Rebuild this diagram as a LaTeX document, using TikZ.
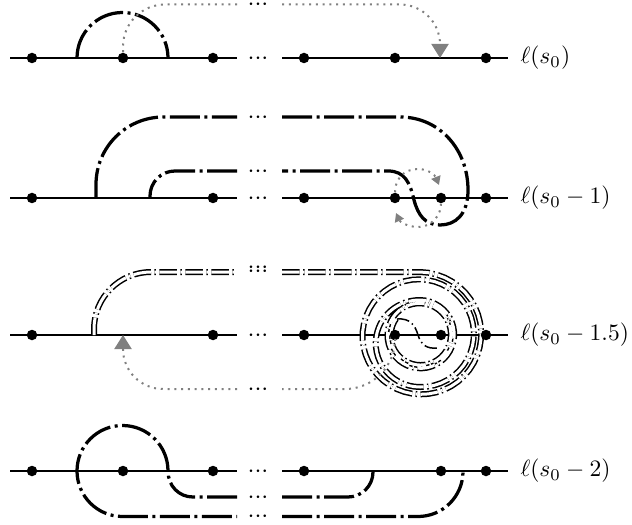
\documentclass[tikz,border=0pt]{standalone}
\usetikzlibrary{arrows.meta}
\newcommand{\mydots}{${\cdot}{\cdot}{\cdot}$}
\begin{document}
\begin{tikzpicture}[x=0.4pt,y=-0.4pt,
  baseln/.style={line width=0.7pt},
  pt/.style={circle,fill=black,inner sep=0pt,minimum size=4.2pt},
  dd/.style={line width=1.3pt,dash pattern=on 12pt off 1.8pt on 1.2pt off 1.8pt},
  band/.style={line width=0.6pt,double,double distance=1.2pt,dash pattern=on 7pt off 1.4pt on 0.6pt off 1.4pt},
  sline/.style={line width=0.6pt,dash pattern=on 5pt off 1.4pt on 0.6pt off 1.4pt},
  gdot/.style={draw=gray,line width=0.8pt,dash pattern=on 0.8pt off 1.9pt},
  bigtip/.style={-{Triangle[width=6.8pt,length=5.6pt]}},
  smalltip/.style={-{Triangle[width=3.8pt,length=3.4pt]}},
  dts/.style={inner sep=0pt,anchor=base},
  lab/.style={anchor=west,inner sep=0pt}]

\useasboundingbox (0,0) rectangle (632,525);

% base lines with gaps
\foreach \y in {58,198,335,471} {
  \draw[baseln] (10,\y) -- (237,\y);
  \draw[baseln] (282,\y) -- (508,\y);
  \node[dts] (e\y) at (258,\y+6.25) {\smash{\mydots}};
}

% ---------- row 1 ----------
\node[pt] (a1) at (32,58) {};
\node[pt] (a2) at (123,58) {};
\node[pt] (a3) at (213,58) {};
\node[pt] (a4) at (304,58) {};
\node[pt] (a5) at (395,58) {};
\node[pt] (a6) at (486,58) {};
\draw[dd] (77,58) arc[start angle=180,end angle=360,radius=45.5];
\draw[gdot,rounded corners=16.8pt] (a2) -- (123,4.5) -- (237,4.5);
\draw[gdot,bigtip,rounded corners=16pt] (282,4.5) -- (440,4.5) -- (440,58);
\node[dts] (t1) at (258,10.75) {\smash{\mydots}};
\node[lab] (l1) at (520,58) {\scalebox{0.94}{$\ell(s_0)$}};

% ---------- row 2 ----------
\node[pt] (b1) at (32,198) {};
\node[pt] (b2) at (213,198) {};
\node[pt] (b3) at (304,198) {};
\node[pt] (b4) at (395,198) {};
\node[pt] (b5) at (441,198) {};
\node[pt] (b6) at (486,198) {};
\draw[dd,rounded corners=27pt] (96,198) -- (96,117) -- (237,117);
\draw[dd,rounded corners=10pt] (237,171) -- (150,171) -- (150,198);
\draw[dd] (282,117) -- (400,117) .. controls (440,117) and (468,150) .. (468,190)
  .. controls (468,215) and (455,225) .. (440,225)
  .. controls (425,225) and (418,215) .. (414,200)
  .. controls (410,183) and (405,171) .. (388,171) -- (282,171);
\node[dts] (t2) at (258,123.25) {\smash{\mydots}};
\node[dts] (t3) at (258,177.25) {\smash{\mydots}};
\draw[gdot,smalltip] (b4) .. controls (395,180) and (403,169) .. (418,169)
  .. controls (428,169) and (435,175) .. (439,185);
\draw[gdot,smalltip] (b5) .. controls (441,215) and (432,227) .. (418,227)
  .. controls (408,227) and (400,222) .. (396,213);
\node[lab] (l2) at (520,198) {\scalebox{0.94}{$\ell(s_0-1)$}};

% ---------- row 3 ----------
\draw[band,rounded corners=22.8pt] (94,335) -- (94,272) -- (237,272);
\draw[band] (282,272) -- (420,272)
  -- plot[domain=0:1.5,samples=70,variable=\u]
     ({420+(63-7.33*\u)*cos(360*\u-90)},{335+(63-7.33*\u)*sin(360*\u-90)})
  -- plot[domain=1.5:2,samples=30,variable=\u]
     ({420+(52-8.5*(1-cos(360*(\u-1.5))))*cos(360*\u-90)},{335+(52-8.5*(1-cos(360*(\u-1.5))))*sin(360*\u-90)})
  -- plot[domain=2:3.85,samples=80,variable=\u]
     ({420+(35-3.3*(\u-2))*cos(360*\u-90)},{335+(35-3.3*(\u-2))*sin(360*\u-90)});
\draw[sline] (397,319) .. controls (410,318) and (415,325) .. (418,335)
  .. controls (421,345) and (427,349) .. (437,348);
\node[dts] (t4) at (258,278) {\smash{\mydots\llap{\raisebox{1.9pt}{\mydots}}}};
\node[pt] (c1) at (32,335) {};
\node[pt] (c2) at (213,335) {};
\node[pt] (c3) at (304,335) {};
\node[pt] (c4) at (395,335) {};
\node[pt] (c5) at (441,335) {};
\node[pt] (c6) at (486,335) {};
\draw[gdot,rounded corners=20pt] (c4) -- (395,389) -- (282,389);
\draw[gdot,bigtip,rounded corners=16pt] (237,389) -- (123,389) -- (123,335);
\node[dts] (t6) at (258,395.25) {\smash{\mydots}};
\node[lab] (l3) at (520,335) {\scalebox{0.94}{$\ell(s_0-1.5)$}};

% ---------- row 4 ----------
\node[pt] (d1) at (32,471) {};
\node[pt] (d2) at (123,471) {};
\node[pt] (d3) at (213,471) {};
\node[pt] (d4) at (304,471) {};
\node[pt] (d5) at (441,471) {};
\node[pt] (d6) at (486,471) {};
\draw[dd] (237,497) -- (193,497) .. controls (179,497) and (168,486) .. (168,471)
  arc[start angle=0,end angle=-180,radius=45.5]
  arc[start angle=180,end angle=90,radius=45.5] -- (237,516.5);
\draw[dd,rounded corners=10pt] (282,497) -- (373,497) -- (373,471);
\draw[dd,rounded corners=18pt] (282,516.5) -- (463,516.5) -- (463,471);
\node[dts] (t7) at (258,503.25) {\smash{\mydots}};
\node[dts] (t8) at (258,522.75) {\smash{\mydots}};
\node[lab] (l4) at (520,471) {\scalebox{0.94}{$\ell(s_0-2)$}};

\end{tikzpicture}
\end{document}
